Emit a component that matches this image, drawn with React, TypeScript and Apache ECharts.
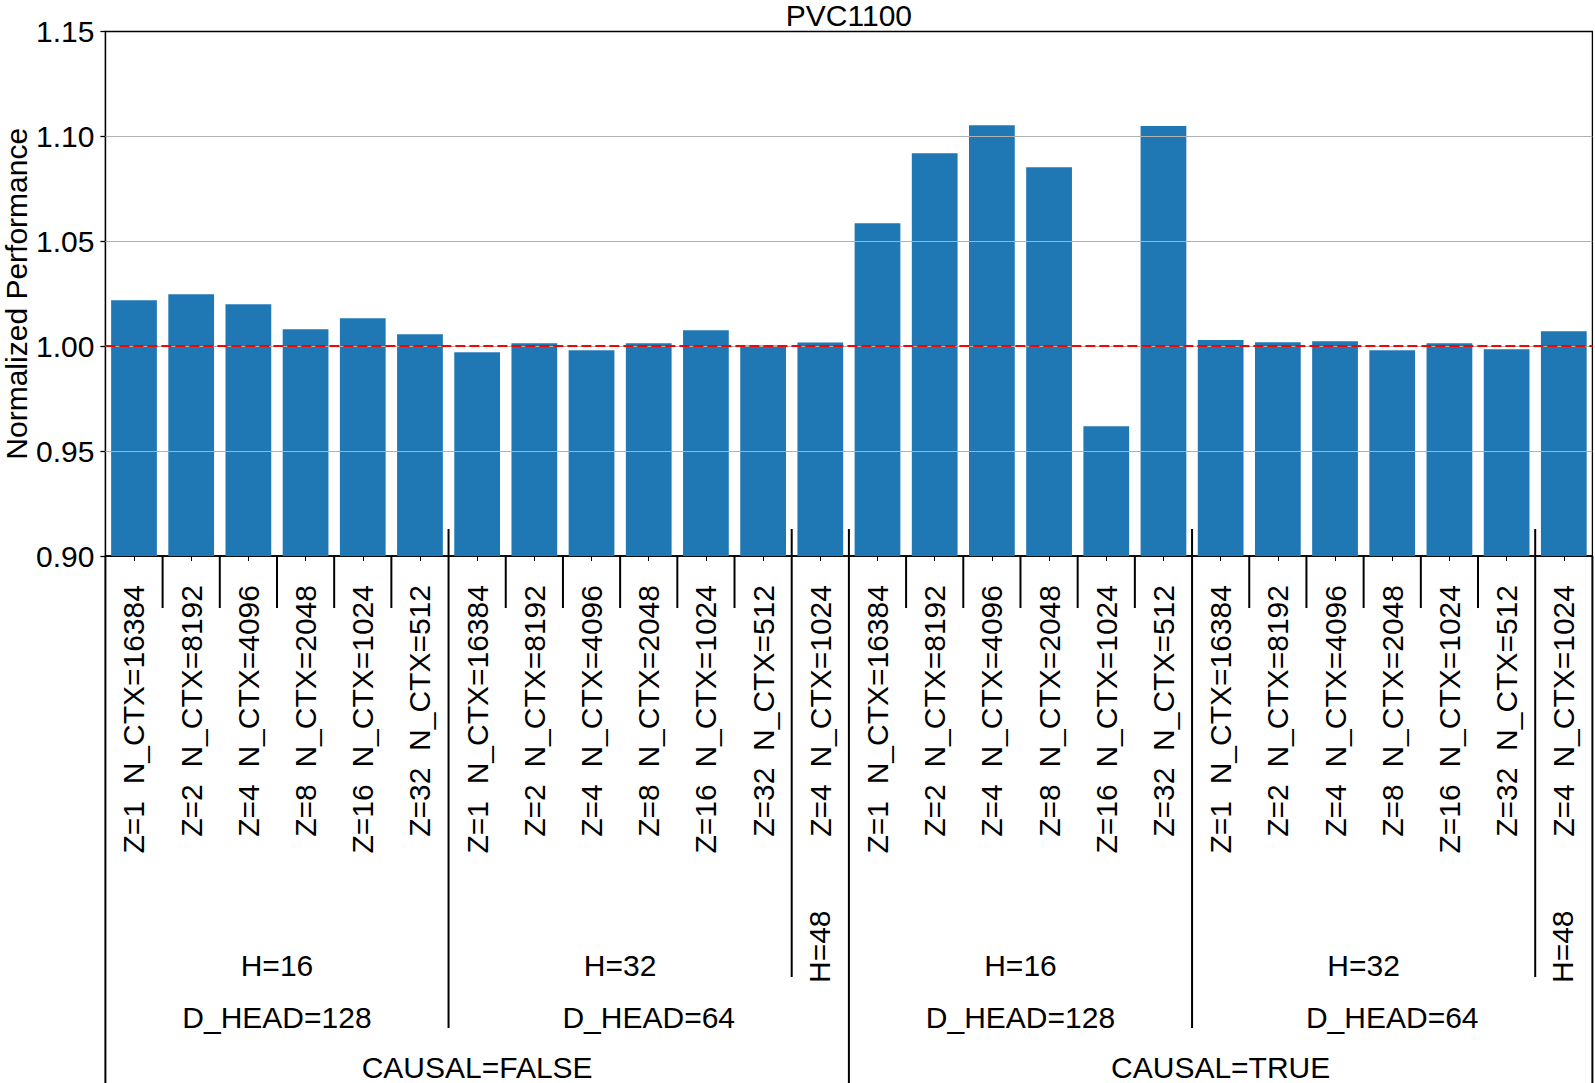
import React, { useEffect, useRef } from "react";
import * as echarts from "echarts";

const FONT = '"Liberation Sans", Arial, Helvetica, sans-serif';

const chartTitle = "PVC1100";
const yAxisName = "Normalized Performance";

const barLabels = [
  "Z=1  N_CTX=16384", "Z=2  N_CTX=8192", "Z=4  N_CTX=4096", "Z=8  N_CTX=2048", "Z=16  N_CTX=1024", "Z=32  N_CTX=512",
  "Z=1  N_CTX=16384", "Z=2  N_CTX=8192", "Z=4  N_CTX=4096", "Z=8  N_CTX=2048", "Z=16  N_CTX=1024", "Z=32  N_CTX=512",
  "Z=4  N_CTX=1024",
  "Z=1  N_CTX=16384", "Z=2  N_CTX=8192", "Z=4  N_CTX=4096", "Z=8  N_CTX=2048", "Z=16  N_CTX=1024", "Z=32  N_CTX=512",
  "Z=1  N_CTX=16384", "Z=2  N_CTX=8192", "Z=4  N_CTX=4096", "Z=8  N_CTX=2048", "Z=16  N_CTX=1024", "Z=32  N_CTX=512",
  "Z=4  N_CTX=1024",
];

const perf = [
  1.0219, 1.0248, 1.02, 1.0081, 1.0133, 1.0057,
  0.9971, 1.0014, 0.9981, 1.0014, 1.0076, 1.0003,
  1.0018,
  1.0586, 1.092, 1.1053, 1.0853, 0.9619, 1.1049,
  1.0029, 1.0019, 1.0024, 0.9981, 1.0014, 0.9986,
  1.0071,
];

const hLabels = ["H=16", "H=32", "H=48", "H=16", "H=32", "H=48"];
const hSpans = [6, 6, 1, 6, 6, 1];
const dLabels = ["D_HEAD=128", "D_HEAD=64", "D_HEAD=128", "D_HEAD=64"];
const dSpans = [6, 7, 6, 7];
const causalLabels = ["CAUSAL=FALSE", "CAUSAL=TRUE"];
const causalSpans = [13, 13];

const yMin = 0.9;
const yMax = 1.15;
const yStep = 0.05;
const gridValues = [0.95, 1.0, 1.05, 1.1];
const refValue = 1.0;

const W = 1595;
const H = 1083;

function boundariesOf(spans: number[]): number[] {
  const out: number[] = [0];
  let acc = 0;
  for (const s of spans) {
    acc += s;
    out.push(acc);
  }
  return out;
}

export default function App() {
  const ref = useRef<HTMLDivElement>(null);

  useEffect(() => {
    if (!ref.current) return;
    const chart = echarts.init(ref.current, null, { renderer: "svg", width: W, height: H });
    const option: any = {
      animation: false,
      grid: {
        left: 105.4,
        right: 2.6,
        top: 31.5,
        bottom: 527,
        containLabel: false,
        outerBoundsMode: "none",
        show: true,
        borderColor: "#000",
        borderWidth: 1.3,
        backgroundColor: "transparent",
      },
      xAxis: {
        type: "category",
        data: barLabels,
        boundaryGap: true,
        axisLine: { show: true, lineStyle: { color: "#000", width: 1.5 } },
        axisTick: { show: true, alignWithLabel: true, length: 5, lineStyle: { color: "#000", width: 1 } },
        axisLabel: {
          interval: 0,
          rotate: 90,
          margin: 29,
          fontSize: 30,
          fontFamily: FONT,
          color: "#000",
        },
        splitLine: { show: false },
      },
      yAxis: {
        type: "value",
        min: yMin,
        max: yMax,
        interval: yStep,
        axisLine: { show: true, lineStyle: { color: "#000", width: 1.3 } },
        axisTick: { show: true, length: 5, lineStyle: { color: "#000", width: 1.3 } },
        axisLabel: {
          margin: 11,
          fontSize: 30,
          fontFamily: FONT,
          color: "#000",
          formatter: (v: number) => v.toFixed(2),
        },
        splitLine: { show: false },
      },
      series: [
        {
          type: "bar",
          data: perf,
          barCategoryGap: "20%",
          itemStyle: { color: "#1f77b4" },
          markLine: {
            silent: true,
            symbol: ["none", "none"],
            label: { show: false },
            emphasis: { disabled: true },
            data: [
              ...gridValues.map((v) => ({
                yAxis: v,
                lineStyle: { color: "#b0b0b0", width: 1.2, type: "solid" },
              })),
              { yAxis: refValue, lineStyle: { color: "#ff0000", width: 2.2, type: [10, 4] } },
            ],
          },
        },
      ],
    };
    chart.setOption(option);

    const c0 = chart.convertToPixel({ xAxisIndex: 0 }, 0) as number;
    const c1 = chart.convertToPixel({ xAxisIndex: 0 }, 1) as number;
    const slot = c1 - c0;
    const bx = (k: number) => c0 - slot / 2 + k * slot;
    const axisY = chart.convertToPixel({ yAxisIndex: 0 }, yMin) as number;
    const topY = chart.convertToPixel({ yAxisIndex: 0 }, yMax) as number;

    const hB = boundariesOf(hSpans);
    const dB = boundariesOf(dSpans);
    const cB = boundariesOf(causalSpans);

    const elements: any[] = [];
    const line = (x: number, y1: number, y2: number) =>
      elements.push({
        type: "line",
        silent: true,
        shape: { x1: x, y1, x2: x, y2 },
        style: { stroke: "#000", lineWidth: 2 },
        z: 10,
      });
    const text = (t: string, x: number, y: number, rot = false, align?: string) =>
      elements.push({
        type: "text",
        silent: true,
        x,
        y,
        rotation: rot ? Math.PI / 2 : 0,
        z: 10,
        style: {
          text: t,
          fontSize: 30,
          fontFamily: FONT,
          fill: "#000",
          align: align || (rot ? "left" : "center"),
          verticalAlign: "middle",
        },
      });

    const innerTop = axisY - 27;
    for (let k = 0; k <= barLabels.length; k++) {
      if (cB.includes(k)) {
        const start = k === 0 || k === barLabels.length ? axisY : innerTop;
        line(bx(k), start, H);
      } else if (dB.includes(k)) {
        line(bx(k), innerTop, axisY + 472);
      } else if (hB.includes(k)) {
        line(bx(k), innerTop, axisY + 421);
      } else {
        line(bx(k), axisY, axisY + 52);
      }
    }

    hLabels.forEach((t, i) => {
      const mid = (bx(hB[i]) + bx(hB[i + 1])) / 2;
      if (hSpans[i] === 1) text(t, mid - 1, axisY + 427, true);
      else text(t, mid, axisY + 409);
    });
    dLabels.forEach((t, i) => {
      const mid = (bx(dB[i]) + bx(dB[i + 1])) / 2;
      text(t, mid, axisY + 461);
    });
    causalLabels.forEach((t, i) => {
      const mid = (bx(cB[i]) + bx(cB[i + 1])) / 2;
      text(t, mid, axisY + 511);
    });

    text(chartTitle, (bx(0) + bx(barLabels.length)) / 2, topY - 16);
    text(yAxisName, 16, (axisY + topY) / 2, true, "center");

    chart.setOption({ graphic: { elements } });

    return () => chart.dispose();
  }, []);

  return (
    <div
      ref={ref}
      style={{ position: "absolute", left: 0, top: 0, width: W, height: H, background: "#fff" }}
    />
  );
}
